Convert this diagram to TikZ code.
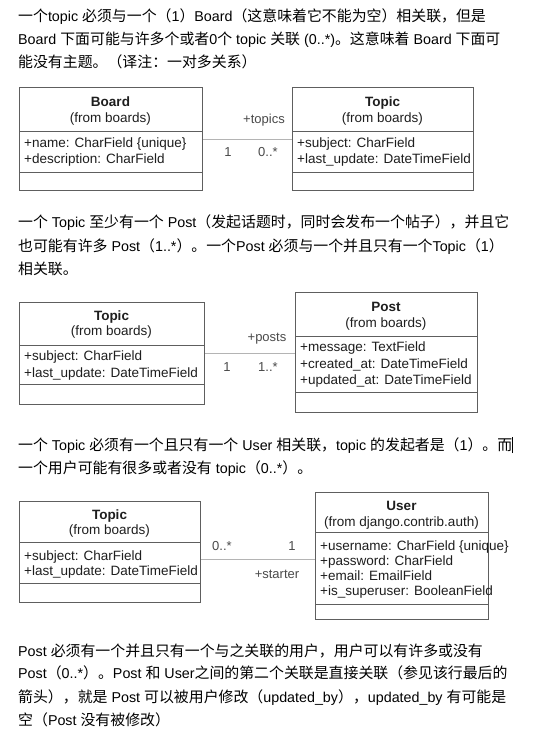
\documentclass[tikz,border=0pt]{standalone}
\usepackage{fontspec}
\setmainfont{Liberation Sans}
\newfontfamily\zhfont{Noto Sans CJK SC}
\newcommand\zh[1]{{\zhfont\fontsize{14.9}{18}\selectfont #1}}
\definecolor{boxline}{HTML}{5E5E5E}
\definecolor{boxtext}{HTML}{1E1E1E}
\definecolor{assocline}{HTML}{B4B4B4}
\definecolor{assoctext}{HTML}{4A4A4A}
\tikzset{
  para/.style={anchor=base west, inner sep=0pt, font=\fontsize{14.3}{18}\selectfont, text=black},
  cls/.style={draw=boxline, line width=1pt, inner sep=0pt, anchor=north west, fill=white},
  divider/.style={draw=boxline, line width=1pt},
  hd/.style={anchor=base, inner sep=0pt, text=boxtext, font=\fontsize{13.5}{16}\selectfont},
  attr/.style={anchor=base west, inner sep=0pt, text=boxtext, font=\fontsize{13.5}{16}\selectfont},
  assoc/.style={draw=assocline, line width=1pt},
  role/.style={anchor=base, inner sep=0pt, text=assoctext, font=\fontsize{13}{16}\selectfont}
}
\begin{document}
\begin{tikzpicture}[x=1pt,y=-1pt]
\useasboundingbox[fill=white] (0,0) rectangle (533,740);

% ---------- paragraph 1
\node[para] (p1a) at (18,21.2) {\zh{一个}topic \zh{必须与一个（}1\zh{）}Board\zh{（这意味着它不能为空）相关联，但是}};
\node[para] (p1b) at (18,44.5) {Board \zh{下面可能与许多个或者}0\zh{个} topic \zh{关联} (0..*)\zh{。这意味着} Board \zh{下面可}};
\node[para] (p1c) at (18,67.2) {\zh{能没有主题。（译注：一对多关系）}};

% ---------- diagram 1
\node[cls, minimum width=183pt, minimum height=103pt] (board) at (19,87) {};
\draw[divider] ([yshift=-44pt]board.north west) -- ([yshift=-44pt]board.north east);
\draw[divider] ([yshift=-85pt]board.north west) -- ([yshift=-85pt]board.north east);
\node[hd] (boardn) at (110.5,106.5) {\textbf{Board}};
\node[hd] (boardf) at (110.5,122) {(from boards)};
\node[attr] (boarda1) at (24,147) {+name: CharField \{unique\}};
\node[attr] (boarda2) at (24,163.7) {+description: CharField};

\node[cls, minimum width=181pt, minimum height=103pt] (topica) at (292,87) {};
\draw[divider] ([yshift=-44pt]topica.north west) -- ([yshift=-44pt]topica.north east);
\draw[divider] ([yshift=-85pt]topica.north west) -- ([yshift=-85pt]topica.north east);
\node[hd] (topican) at (382.5,106.5) {\textbf{Topic}};
\node[hd] (topicaf) at (382.5,122) {(from boards)};
\node[attr] (topicaa1) at (297,147) {+subject: CharField};
\node[attr] (topicaa2) at (297,163.7) {+last\_update: DateTimeField};

\draw[assoc] (board.east) -- (topica.west);
\node[role] (r1) at (264,123) {+topics};
\node[role] (r2) at (228,156) {1};
\node[role] (r3) at (268,156) {0..*};

% ---------- paragraph 2
\node[para] (p2a) at (18,227.8) {\zh{一个} Topic \zh{至少有一个} Post\zh{（发起话题时，同时会发布一个帖子），并且它}};
\node[para] (p2b) at (18,251.2) {\zh{也可能有许多} Post\zh{（}1..*\zh{）。一个}Post \zh{必须与一个并且只有一个}Topic\zh{（}1\zh{）}};
\node[para] (p2c) at (18,274.5) {\zh{相关联。}};

% ---------- diagram 2
\node[cls, minimum width=185pt, minimum height=102pt] (topicb) at (19,302) {};
\draw[divider] ([yshift=-43pt]topicb.north west) -- ([yshift=-43pt]topicb.north east);
\draw[divider] ([yshift=-82pt]topicb.north west) -- ([yshift=-82pt]topicb.north east);
\node[hd] (topicbn) at (111.5,320.7) {\textbf{Topic}};
\node[hd] (topicbf) at (111.5,335.7) {(from boards)};
\node[attr] (topicba1) at (24,360.7) {+subject: CharField};
\node[attr] (topicba2) at (24,377) {+last\_update: DateTimeField};

\node[cls, minimum width=182pt, minimum height=120pt] (post) at (295,292) {};
\draw[divider] ([yshift=-44pt]post.north west) -- ([yshift=-44pt]post.north east);
\draw[divider] ([yshift=-100pt]post.north west) -- ([yshift=-100pt]post.north east);
\node[hd] (postn) at (386,311.4) {\textbf{Post}};
\node[hd] (postf) at (386,327.4) {(from boards)};
\node[attr] (posta1) at (300,351.4) {+message: TextField};
\node[attr] (posta2) at (300,368) {+created\_at: DateTimeField};
\node[attr] (posta3) at (300,384) {+updated\_at: DateTimeField};

\draw[assoc] (topicb.east) -- (topicb.east -| post.west);
\node[role] (r4) at (267,341.5) {+posts};
\node[role] (r5) at (227,371.5) {1};
\node[role] (r6) at (268,371.5) {1..*};

% ---------- paragraph 3
\node[para] (p3a) at (18,450.5) {\zh{一个} Topic \zh{必须有一个且只有一个} User \zh{相关联，}topic \zh{的发起者是（}1\zh{）。而}\rule[-2.5pt]{0.7pt}{16pt}};
\node[para] (p3b) at (18,473.8) {\zh{一个用户可能有很多或者没有} topic\zh{（}0..*\zh{）。}};

% ---------- diagram 3
\node[cls, minimum width=181pt, minimum height=101pt] (topicc) at (19,501) {};
\draw[divider] ([yshift=-41pt]topicc.north west) -- ([yshift=-41pt]topicc.north east);
\draw[divider] ([yshift=-82pt]topicc.north west) -- ([yshift=-82pt]topicc.north east);
\node[hd] (topiccn) at (109.5,519) {\textbf{Topic}};
\node[hd] (topiccf) at (109.5,534) {(from boards)};
\node[attr] (topicca1) at (24,560.4) {+subject: CharField};
\node[attr] (topicca2) at (24,575) {+last\_update: DateTimeField};

\node[cls, minimum width=173pt, minimum height=127pt] (user) at (315,492) {};
\draw[divider] ([yshift=-40pt]user.north west) -- ([yshift=-40pt]user.north east);
\draw[divider] ([yshift=-112pt]user.north west) -- ([yshift=-112pt]user.north east);
\node[hd] (usern) at (401.5,510.7) {\textbf{User}};
\node[hd] (userf) at (401.5,526.7) {(from django.contrib.auth)};
\node[attr] (usera1) at (320,550.7) {+username: CharField \{unique\}};
\node[attr] (usera2) at (320,565.7) {+password: CharField};
\node[attr] (usera3) at (320,580.7) {+email: EmailField};
\node[attr] (usera4) at (320,595.7) {+is\_superuser: BooleanField};

\coordinate (c3) at ([yshift=-7.5pt]topicc.east);
\draw[assoc] (c3) -- (c3 -| user.west);
\node[role] (r7) at (222,550.5) {0..*};
\node[role] (r8) at (292,550.5) {1};
\node[role] (r9) at (277,578.5) {+starter};

% ---------- paragraph 4
\node[para] (p4a) at (18,656.2) {Post \zh{必须有一个并且只有一个与之关联的用户，用户可以有许多或没有}};
\node[para] (p4b) at (18,678.8) {Post\zh{（}0..*\zh{）。}Post \zh{和} User\zh{之间的第二个关联是直接关联（参见该行最后的}};
\node[para] (p4c) at (18,702.2) {\zh{箭头），就是} Post \zh{可以被用户修改（}updated\_by\zh{），}updated\_by \zh{有可能是}};
\node[para] (p4d) at (18,725.5) {\zh{空（}Post \zh{没有被修改）}};
\end{tikzpicture}
\end{document}
